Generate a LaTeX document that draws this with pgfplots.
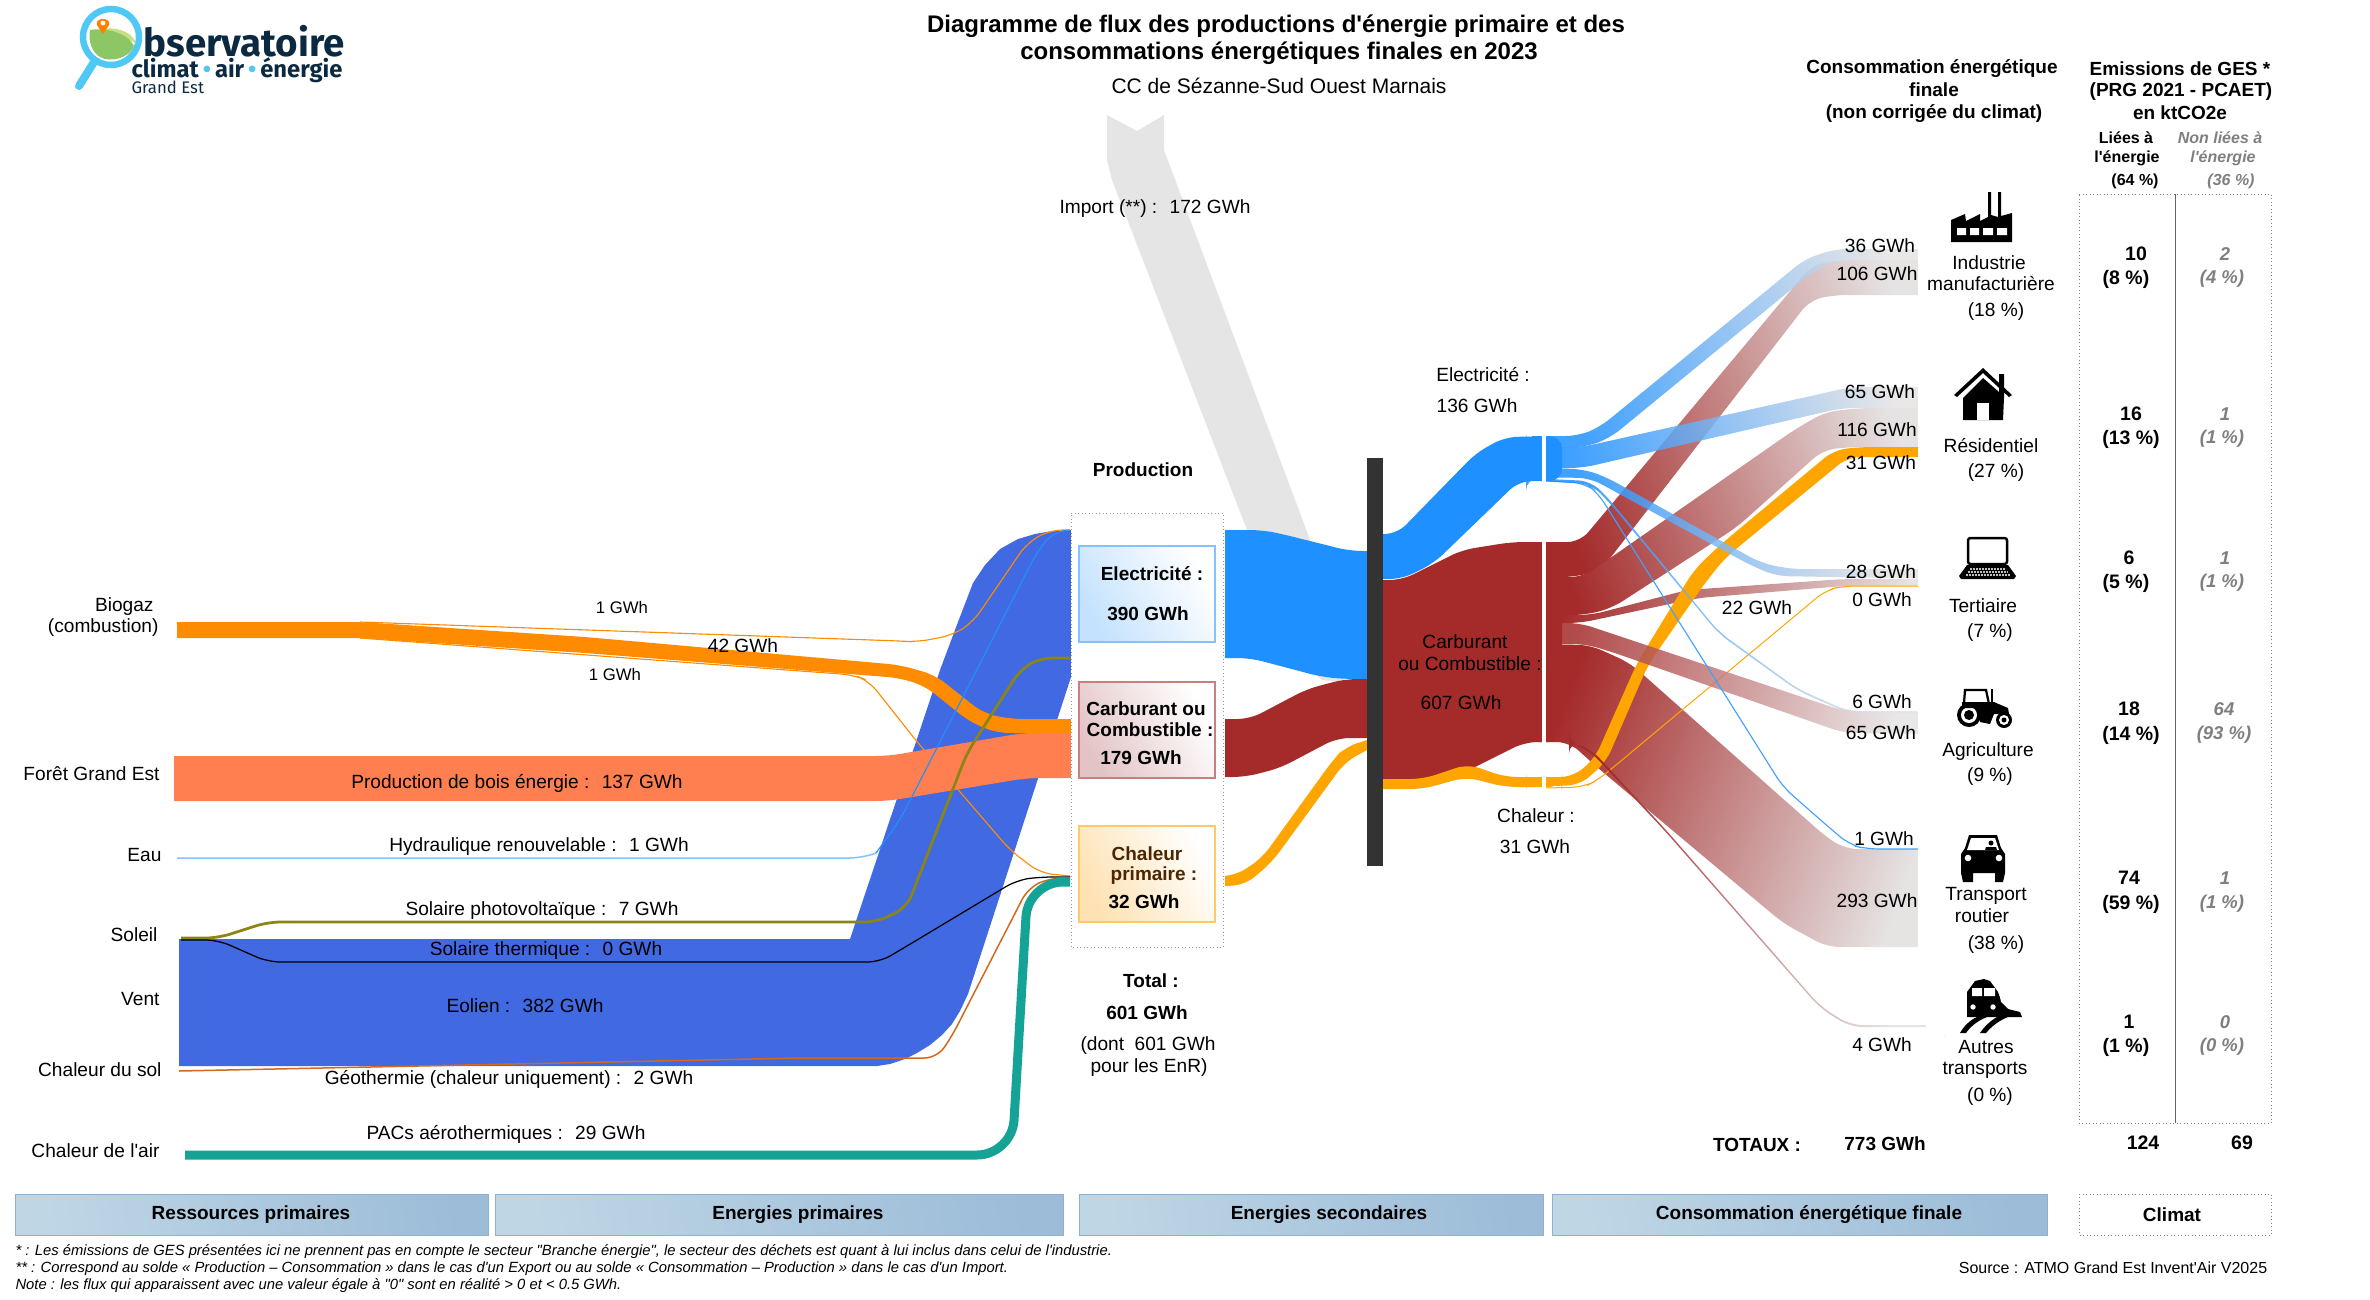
\documentclass[border=0pt]{standalone}
\usepackage{fontspec}
\newfontfamily\mainf{Liberation Sans}
\newfontfamily\logofont{Fira Sans}
\usepackage{pgfplots}
\pgfplotsset{compat=1.18}

\definecolor{eolien}{HTML}{4169E1}
\definecolor{bois}{HTML}{FF7F50}
\definecolor{biogaz}{HTML}{FF8C00}
\definecolor{elec}{HTML}{1E90FF}
\definecolor{comb}{HTML}{A52A2A}
\definecolor{chal}{HTML}{FFA500}
\definecolor{pac}{HTML}{14A395}
\definecolor{olive2}{HTML}{8B8516}
\definecolor{geo}{HTML}{D2691E}
\definecolor{fadeend}{HTML}{E6E3E3}
\definecolor{greytxt}{HTML}{7F7F7F}
\definecolor{logob}{HTML}{4FC8F5}
\definecolor{logon}{HTML}{0B2A42}
\definecolor{logog}{HTML}{8CC665}
\definecolor{logol}{HTML}{C9DE7E}
\definecolor{barl}{HTML}{BFD6E5}
\definecolor{barr}{HTML}{9CBCD8}
\definecolor{barb}{HTML}{8AB3D3}
\definecolor{boxe}{HTML}{C4E2FD}
\definecolor{boxc}{HTML}{E3C4C6}
\definecolor{boxh}{HTML}{FEE2B3}

\tikzset{
  lb/.style={inner sep=0pt,font=\mainf\fontsize{7.65}{10}\selectfont},
  lbb/.style={inner sep=0pt,font=\mainf\fontsize{7.6}{10}\selectfont\bfseries},
  num/.style={inner sep=0pt,font=\mainf\fontsize{7.8}{10}\selectfont\bfseries},
  hd/.style={inner sep=0pt,font=\mainf\fontsize{9.6}{11}\selectfont\bfseries},
  sm/.style={inner sep=0pt,font=\mainf\fontsize{6.4}{8}\selectfont\bfseries},
  smg/.style={inner sep=0pt,text=greytxt,font=\mainf\fontsize{6.4}{8}\selectfont\bfseries\itshape},
  gr/.style={inner sep=0pt,text=greytxt,font=\mainf\fontsize{7.4}{10}\selectfont\bfseries\itshape},
  fn/.style={inner sep=0pt,anchor=west,font=\mainf\fontsize{5.92}{7}\selectfont\itshape},
  flow/.style={draw=none,rounded corners=5pt},
  fade/.style={draw=none,rounded corners=5pt,left color=#1,right color=fadeend,shading angle=70},
  thin line/.style={rounded corners=5pt,line width=#1},
  mask/.style={draw=none,fill=white},
  bar/.style={draw=barb,line width=.4pt,left color=barl,right color=barr,shading angle=100}
}
\newcommand{\tx}[4][lb]{\node[#1] at (#2,#3) {#4};}
\newcommand{\band}[2]{\addplot[#1] coordinates {#2} -- cycle;}

\begin{document}
\begin{tikzpicture}
\useasboundingbox (0,0) rectangle (948pt,519.6pt);
\begin{axis}[
  scale only axis,
  width=948pt,
  height=519.6pt,
  xmin=0,xmax=2370,
  ymin=0,ymax=1299,
  y dir=reverse,
  hide axis,
  clip=false,
  no markers
]

% import and flows out of the production box
\addplot[draw=none,fill=black!10] coordinates {(1107,115)(1137,131)(1164,115)(1164,150)(1312,545)(1345,560)(1345,682)(1322,680)(1300,660)(1247,530)(1112,180)(1107,160)} -- cycle;
\band{flow,fill=elec}{(1205,530)(1262,530)(1282,534)(1350,551)(1383,551)(1383,679)(1345,679)(1322,677)(1250,658)(1205,658)}
\band{flow,fill=comb}{(1205,719)(1250,719)(1307,689)(1345,679)(1383,679)(1383,738)(1337,738)(1280,768)(1245,777)(1205,777)}
\band{flow,fill=chal}{(1205,876)(1235,876)(1262,858)(1333,760)(1345,747)(1380,736)(1380,743)(1345,762)(1272,862)(1245,885)(1205,887)}

% secondary blocks
\band{flow,fill=elec}{(1370,534)(1397,534)(1476,453)(1505,437)(1562,436)(1562,481)(1519,481)(1434,563)(1402,579)(1370,579)}
\band{flow,fill=comb}{(1370,580)(1402,580)(1462,550)(1512,542)(1562,542)(1562,742)(1525,742)(1469,770)(1440,785)(1370,785)}
\band{flow,fill=chal}{(1370,779)(1423,779)(1468,764)(1505,777)(1562,777)(1562,787)(1505,787)(1466,777)(1423,789)(1370,789)}

% primary resources
\addplot[draw=none,fill=eolien] coordinates {(179,939)(850,939)(940,670)(958,622)(973,583)(985,565)(1000,549)(1018,539)(1035,534)(1052,531)(1071,530)(1071,677)(968,994)(960,1011)(952,1024)(942,1035)(930,1045)(917,1053)(905,1059)(890,1064)(877,1066)(179,1066)} -- cycle;
\addplot[thin line=.45pt,draw=biogaz] coordinates {(360,622)(900,641)(917,642)(953,635)(973,622)(1027,543)(1050,530)(1070,530)};
\addplot[thin line=.45pt,draw=biogaz] coordinates {(360,638)(854,675)(869,681)(918,743)(1010,850)(1040,873)(1070,876)};
\band{flow,fill=bois}{(154,756)(888,756)(1023,733)(1090,732)(1090,778)(1027,778)(888,801)(154,801)}
\band{flow,fill=biogaz}{(157,622)(360,622)(585,637)(900,665)(935,675)(983,713)(1010,719)(1090,719)(1090,733)(997,733)(970,722)(925,686)(900,678)(585,653)(360,638)(157,638)}
\band{mask}{(130,615)(177,615)(177,645)(130,645)}
\band{mask}{(130,750)(174,750)(174,806)(130,806)}
\addplot[thin line=.6pt,draw=elec!55!white] coordinates {(177,858)(862,858)(876,853)};
\addplot[thin line=.45pt,draw=elec] coordinates {(876,853)(900,820)(1037,552)(1053,532)(1070,530)};
\addplot[thin line=1.1pt,draw=olive2] coordinates {(181,938)(218,938)(268,922)(877,922)(907,907)(967,753)(1020,670)(1040,658)(1070,658)};
\addplot[thin line=.5pt,draw=black] coordinates {(181,940)(218,940)(268,962)(880,962)(917,940)(1017,880)(1040,877)(1070,877)};
\addplot[thin line=.6pt,draw=geo] coordinates {(179,1071)(800,1058)(937,1058)(952,1036)(1028,888)(1050,878)(1070,878)};
\addplot[rounded corners=14pt,line width=3.6pt,draw=pac] coordinates {(185,1155)(1012,1155)(1028,882)(1070,882)};

% production box
\band{mask}{(1071,505)(1225,505)(1225,955)(1071,955)}
\addplot[draw=gray!80,densely dotted,line width=.4pt] coordinates {(1071,513)(1223,513)(1223,947)(1071,947)(1071,513)};
\addplot[draw=elec!55!white,line width=.6pt,left color=boxe,right color=white,shading angle=120] coordinates {(1079,546)(1215,546)(1215,642)(1079,642)} -- cycle;
\addplot[draw=comb!60!white,line width=.6pt,left color=boxc,right color=white,shading angle=120] coordinates {(1079,682)(1215,682)(1215,778)(1079,778)} -- cycle;
\addplot[draw=chal!60!white,line width=.6pt,left color=boxh,right color=white,shading angle=120] coordinates {(1079,826)(1215,826)(1215,922)(1079,922)} -- cycle;

% final consumption
\band{fade=comb}{(1526,644)(1590,645)(1630,663)(1825,836)(1845,849)(1940,849)(1940,947)(1827,947)(1783,923)(1598,768)(1569,742)(1526,742)}
\band{fade=comb,shading angle=110}{(1580,542)(1812,265)(1840,260)(1940,260)(1940,295)(1835,295)(1810,300)(1601,570)(1575,577)(1526,577)(1526,542)}
\band{fade=comb,shading angle=110}{(1526,577)(1583,577)(1794,430)(1825,412)(1860,408)(1940,408)(1940,447)(1850,447)(1823,450)(1737,527)(1612,608)(1585,615)(1526,615)}
\band{fade=comb}{(1526,615)(1591,615)(1687,590)(1844,579)(1940,579)(1940,586)(1844,586)(1698,598)(1580,623)(1526,623)}
\band{flow,fill=chal}{(1526,777)(1573,777)(1595,758)(1637,663)(1694,570)(1720,545)(1834,450)(1860,447)(1940,447)(1940,457)(1848,457)(1725,558)(1705,583)(1648,665)(1606,762)(1580,785)(1526,787)}
\addplot[thin line=.4pt,draw=chal] coordinates {(1546,788)(1584,787)(1598,780)(1826,590)(1844,586)(1918,586)};
\band{fade=comb,fill opacity=.85}{(1526,623)(1580,623)(1844,711)(1940,712)(1940,734)(1844,733)(1612,652)(1585,644)(1526,644)}
\addplot[thin line=.45pt,draw=elec!85!white] coordinates {(1546,481)(1585,483)(1598,493)(1783,787)(1832,830)(1850,845)(1867,849)(1918,849)};
\band{fade=elec,fill opacity=.85}{(1526,478)(1591,481)(1609,499)(1719,632)(1798,689)(1848,711)(1940,711)(1940,713)(1848,713)(1798,691)(1719,634)(1609,502)(1591,484)(1526,480)}
\band{fade=elec,fill opacity=.85,shading angle=110}{(1526,436)(1578,436)(1600,427)(1805,259)(1835,249)(1940,249)(1940,260)(1840,260)(1815,270)(1610,438)(1586,447)(1526,447)}
\band{fade=elec,fill opacity=.85,shading angle=110}{(1526,447)(1582,447)(1820,394)(1850,387)(1940,387)(1940,408)(1842,408)(1582,468)(1526,468)}
\band{fade=elec,fill opacity=.85}{(1526,468)(1583,469)(1606,477)(1761,563)(1790,569)(1940,569)(1940,579)(1776,576)(1750,565)(1590,478)(1526,477)}
\band{fade=comb}{(1569,741)(1591,749)(1666,830)(1820,1006)(1850,1025)(1945,1025)(1945,1027)(1850,1027)(1820,1008)(1665,831)(1590,751)(1569,743)}
\band{mask}{(1918,240)(1955,240)(1955,960)(1918,960)}
\band{mask}{(1926,1015)(1955,1015)(1955,1035)(1926,1035)}
% block ends and the white gap, on top of the flow starts
\addplot[draw=none,fill=elec] coordinates {(1532,436)(1542,436)(1542,481)(1532,481)} -- cycle;
\addplot[draw=none,fill=comb] coordinates {(1525,542)(1542,542)(1542,742)(1525,742)} -- cycle;
\addplot[draw=none,fill=chal] coordinates {(1525,777)(1542,777)(1542,787)(1525,787)} -- cycle;
\band{mask}{(1542,430)(1546,430)(1546,795)(1542,795)}
\addplot[draw=none,fill=black!80] coordinates {(1367,458)(1383,458)(1383,866)(1367,866)} -- cycle;

% emissions table and bottom bars
\addplot[draw=gray,densely dotted,line width=.4pt] coordinates {(2079,194)(2271,194)(2271,1123)(2079,1123)(2079,194)};
\addplot[draw=black!60,line width=.4pt] coordinates {(2175,194)(2175,1123)};
\addplot[draw=gray,densely dotted,line width=.4pt] coordinates {(2079,1194)(2271,1194)(2271,1235)(2079,1235)(2079,1194)};
\addplot[bar] coordinates {(15,1194)(488,1194)(488,1235)(15,1235)} -- cycle;
\addplot[bar] coordinates {(495,1194)(1063,1194)(1063,1235)(495,1235)} -- cycle;
\addplot[bar] coordinates {(1079,1194)(1543,1194)(1543,1235)(1079,1235)} -- cycle;
\addplot[bar] coordinates {(1552,1194)(2047,1194)(2047,1235)(1552,1235)} -- cycle;

% title
\tx[hd]{1276}{26}{Diagramme de flux des productions d'énergie primaire et des}
\tx[hd]{1279}{53}{consommations énergétiques finales en 2023}
\tx[lb,font=\mainf\fontsize{8.4}{10}\selectfont]{1279}{86}{CC de Sézanne-Sud Ouest Marnais}

% left labels
\tx[lb,anchor=east]{154}{607}{Biogaz}
\tx[lb,anchor=east]{159}{628}{(combustion)}
\tx[lb,anchor=east]{160}{774}{Forêt Grand Est}
\tx[lb,anchor=east]{162}{855}{Eau}
\tx[lb,anchor=east]{158}{935}{Soleil}
\tx[lb,anchor=east]{160}{999}{Vent}
\tx[lb,anchor=east]{162}{1070}{Chaleur du sol}
\tx[lb,anchor=east]{160}{1151}{Chaleur de l'air}

% flow labels
\tx[lb,font=\mainf\fontsize{6.7}{9}\selectfont]{622}{608}{1 GWh}
\tx{743}{646}{42 GWh}
\tx[lb,font=\mainf\fontsize{6.7}{9}\selectfont]{615}{675}{1 GWh}
\tx{517}{783}{Production de bois énergie :~ 137 GWh}
\tx{539}{847}{Hydraulique renouvelable :~ 1 GWh}
\tx{542}{911}{Solaire photovoltaïque :~ 7 GWh}
\tx{546}{951}{Solaire thermique :~ 0 GWh}
\tx{525}{1006}{Eolien :~ 382 GWh}
\tx{509}{1079}{Géothermie (chaleur uniquement) :~ 2 GWh}
\tx{506}{1134}{PACs aérothermiques :~ 29 GWh}
\tx{1155}{209}{Import (**) :~ 172 GWh}
\tx[lbb]{1143}{470}{Production}

% boxes
\tx[lbb]{1152}{574}{Electricité :}
\tx[lbb]{1148}{614}{390 GWh}
\tx[lbb]{1146}{709}{Carburant ou}
\tx[lbb]{1150}{730}{Combustible :}
\tx[lbb]{1141}{758}{179 GWh}
\tx[lbb,text=black!70!orange]{1147}{854}{Chaleur}
\tx[lbb,text=black!70!orange]{1154}{876}{primaire :}
\tx[lbb]{1144}{902}{32 GWh}
\tx[lbb]{1151}{981}{Total :}
\tx[lbb]{1147}{1013}{601 GWh}
\tx{1148}{1046}{(dont~ 601 GWh}
\tx{1149}{1068}{pour les EnR)}

% secondary labels
\tx{1483}{375}{Electricité :}
\tx{1477}{406}{136 GWh}
\tx{1465}{642}{Carburant}
\tx{1470}{664}{ou Combustible :}
\tx{1461}{703}{607 GWh}
\tx{1536}{816}{Chaleur :}
\tx{1535}{847}{31 GWh}
\tx{1757}{608}{22 GWh}

% final labels
\tx{1880}{246}{36 GWh}
\tx{1877}{274}{106 GWh}
\tx{1880}{392}{65 GWh}
\tx{1877}{430}{116 GWh}
\tx{1881}{463}{31 GWh}
\tx{1881}{572}{28 GWh}
\tx{1882}{600}{0 GWh}
\tx{1882}{702}{6 GWh}
\tx{1881}{733}{65 GWh}
\tx{1884}{839}{1 GWh}
\tx{1877}{901}{293 GWh}
\tx{1882}{1045}{4 GWh}
\tx[lbb]{1757}{1145}{TOTAUX :}
\tx[lbb]{1885}{1144}{773 GWh}

% sectors
\tx{1989}{263}{Industrie}
\tx{1991}{284}{manufacturière}
\tx{1996}{312}{(18 \%)}
\tx{1991}{446}{Résidentiel}
\tx{1996}{473}{(27 \%)}
\tx{1983}{606}{Tertiaire}
\tx{1990}{633}{(7 \%)}
\tx{1988}{752}{Agriculture}
\tx{1990}{777}{(9 \%)}
\tx{1986}{896}{Transport}
\tx{1982}{916}{routier}
\tx{1996}{945}{(38 \%)}
\tx{1986}{1047}{Autres}
\tx{1985}{1070}{transports}
\tx{1990}{1097}{(0 \%)}

% headers
\tx[lbb]{1932}{69}{Consommation énergétique}
\tx[lbb]{1934}{90}{finale}
\tx[lbb]{1934}{114}{(non corrigée du climat)}
\tx[lbb]{2180}{69}{Emissions de GES *}
\tx[lbb]{2181}{92}{(PRG 2021 - PCAET)}
\tx[lbb]{2180}{113}{en ktCO2e}
\tx[sm]{2126}{138}{Liées à}
\tx[sm]{2127}{158}{l'énergie}
\tx[sm]{2135}{181}{(64 \%)}
\tx[smg]{2220}{138}{Non liées à}
\tx[smg]{2223}{158}{l'énergie}
\tx[smg]{2231}{181}{(36 \%)}

% emissions
\tx[num]{2136}{254}{10}
\tx[num]{2126}{279}{(8 \%)}
\tx[gr]{2225}{254}{2}
\tx[gr]{2222}{279}{(4 \%)}
\tx[num]{2131}{414}{16}
\tx[num]{2131}{439}{(13 \%)}
\tx[gr]{2225}{414}{1}
\tx[gr]{2222}{439}{(1 \%)}
\tx[num]{2129}{558}{6}
\tx[num]{2126}{583}{(5 \%)}
\tx[gr]{2225}{558}{1}
\tx[gr]{2222}{583}{(1 \%)}
\tx[num]{2129}{709}{18}
\tx[num]{2131}{735}{(14 \%)}
\tx[gr]{2224}{709}{64}
\tx[gr]{2224}{735}{(93 \%)}
\tx[num]{2129}{878}{74}
\tx[num]{2131}{904}{(59 \%)}
\tx[gr]{2225}{878}{1}
\tx[gr]{2222}{904}{(1 \%)}
\tx[num]{2129}{1022}{1}
\tx[num]{2126}{1047}{(1 \%)}
\tx[gr]{2225}{1022}{0}
\tx[gr]{2222}{1047}{(0 \%)}
\tx[num]{2143}{1143}{124}
\tx[num]{2242}{1143}{69}

% bottom
\tx[lbb]{251}{1215}{Ressources primaires}
\tx[lbb]{798}{1215}{Energies primaires}
\tx[lbb]{1329}{1215}{Energies secondaires}
\tx[lbb]{1809}{1215}{Consommation énergétique finale}
\tx[lbb]{2172}{1215}{Climat}
\tx[fn]{15}{1252}{* : Les émissions de GES présentées ici ne prennent pas en compte le secteur "Branche énergie", le secteur des déchets est quant à lui inclus dans celui de l'industrie.}
\tx[fn]{15}{1269}{** : Correspond au solde « Production – Consommation » dans le cas d'un Export ou au solde « Consommation – Production » dans le cas d'un Import.}
\tx[fn]{15}{1286}{Note : les flux qui apparaissent avec une valeur égale à "0" sont en réalité > 0 et < 0.5 GWh.}
\tx[lb,font=\mainf\fontsize{6.4}{9}\selectfont]{2113}{1268}{Source : ATMO Grand Est Invent'Air V2025}

% icons
\fill[black] (1951,242) -- (1951,220) -- (1965,214) -- (1966,221) -- (1980,214) -- (1980,221) -- (1988,217) -- (1988,192) -- (1991,192) -- (1991,215) -- (1998,217) -- (1998,192) -- (2001,192) -- (2001,216) -- (2012,213) -- (2012,242) -- cycle;
\fill[white] (1957,228) rectangle (1966,235) (1970,228) rectangle (1979,235) (1983,228) rectangle (1993,235) (1997,228) rectangle (2007,235);
\fill[black] (1963,398) -- (1983,378) -- (1999,392) -- (1999,374) -- (2004,374) -- (2004,397) -- (2003,420) -- (1963,420) -- cycle;
\fill[black] (1954,395) -- (1983,368) -- (2012,395) -- (2009,397) -- (1983,373) -- (1957,397) -- cycle;
\fill[white] (1977,403) rectangle (1989,420);
\draw[black,line width=1pt,rounded corners=1pt,fill=white] (1968,538) rectangle (2007,564);
\fill[black] (1967,565) -- (2008,565) -- (2016,576) -- (2014,579) -- (1961,579) -- (1959,576) -- cycle;
\draw[white!75!black,line width=.5pt,dash pattern=on .8pt off .4pt] (1970,569) -- (2006,569) (1968,572) -- (2008,572) (1966,575) -- (2010,575);
\fill[black] (1969,715) circle[radius=12];
\fill[white] (1969,715) circle[radius=8];
\fill[black] (1969,715) circle[radius=5];
\fill[black] (2004,720) circle[radius=8];
\fill[white] (2004,720) circle[radius=5];
\fill[black] (2004,720) circle[radius=2.5];
\draw[black,line width=.9pt] (1964,703) -- (1965,690) -- (1986,690) -- (1989,704);
\fill[black] (1962,702) -- (1994,702) -- (2008,708) -- (2009,714) -- (1994,714) -- (1990,724) -- (1980,722) -- (1978,708) -- (1962,708) -- cycle;
\fill[black] (1991,689) rectangle (1993,703);
\fill[black] (1969,835) -- (1997,835) -- (2001,848) -- (2005,854) -- (2005,873) -- (2003,882) -- (1995,882) -- (1995,873) -- (1973,873) -- (1973,882) -- (1963,882) -- (1961,873) -- (1961,854) -- (1965,848) -- cycle;
\fill[white] (1971,838) -- (1995,838) -- (1999,850) -- (1967,850) -- cycle;
\fill[black] (1991,843) circle[radius=2.5];
\fill[black] (1985,850) -- (1986,847) -- (1996,847) -- (1997,850) -- cycle;
\fill[white] (1968,858) circle[radius=3.3];
\fill[white] (1999,858) circle[radius=3.3];
\fill[black] (1967,1017) -- (1967,992) -- (1975,981) -- (1984,979) -- (1990,981) -- (1998,992) -- (2002,1003) -- (2008,1009) -- (2020,1012) -- (2022,1017) -- cycle;
\fill[white] (1972,988) rectangle (1982,996) (1984,988) rectangle (1995,996);
\fill[white] (2000,996) -- (2007,1005) -- (2015,1009) -- (2008,1006) -- (2001,1002) -- cycle;
\fill[white] (1973,1007) circle[radius=2.7];
\fill[white] (1993,1007) circle[radius=2.7];
\fill[black] (1960,1033) .. controls (1964,1026) and (1970,1020) .. (1977,1017) -- (1987,1017) .. controls (1977,1021) and (1970,1027) .. (1966,1033) -- cycle;
\fill[black] (1980,1033) .. controls (1984,1027) and (1990,1021) .. (1997,1017) -- (2008,1017) .. controls (1998,1021) and (1991,1027) .. (1986,1033) -- cycle;

% logo
\draw[logob,line width=3.2pt,line cap=round] (94,62) -- (79,86);
\draw[logob,line width=2.6pt] (111,37) circle[radius=28];
\fill[logol] (100,29) .. controls (120,26) and (134,34) .. (136,44) .. controls (130,38) and (118,36) .. (100,34) -- cycle;
\fill[logog] (90,30) .. controls (105,27) and (128,33) .. (134,46) .. controls (130,58) and (110,63) .. (100,57) .. controls (92,52) and (88,42) .. (90,30) -- cycle;
\fill[orange] (103,34) -- (97,25) .. controls (94,17) and (112,17) .. (109,25) -- cycle;
\fill[white] (103,23) circle[radius=2.4];
\node[anchor=west,inner sep=0pt,text=logon,font=\logofont\fontsize{15.4}{17}\selectfont\bfseries] at (143,41) {bservatoire};
\node[anchor=west,inner sep=0pt,text=logon,font=\logofont\fontsize{9.5}{11}\selectfont\bfseries] at (131,70) {climat\,{\color{logob}•}\,air\,{\color{logob}•}\,énergie};
\node[anchor=west,inner sep=0pt,text=logon,font=\logofont\fontsize{6.7}{8}\selectfont] at (131,87) {Grand Est};
\end{axis}
\end{tikzpicture}
\end{document}
